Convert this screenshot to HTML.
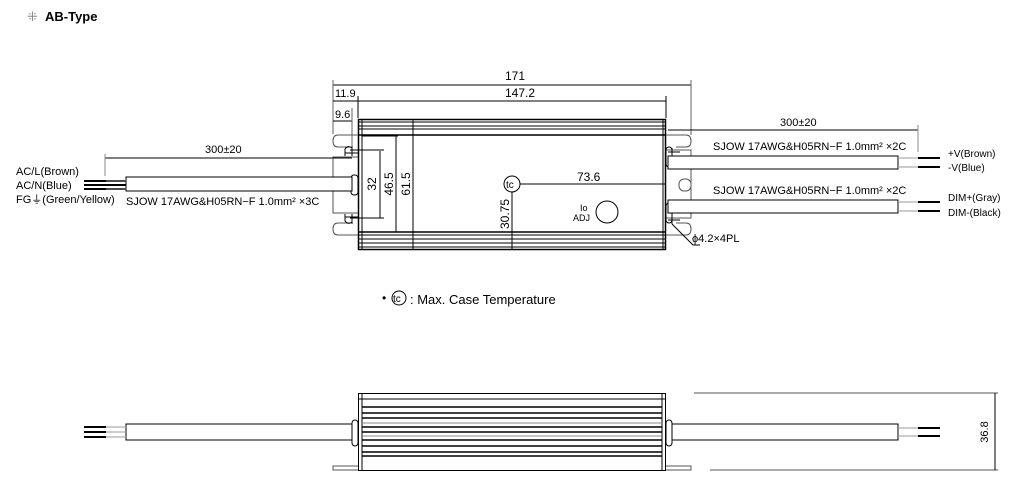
<!DOCTYPE html>
<html><head><meta charset="utf-8"><style>
html,body{margin:0;padding:0;background:#fff;}
svg{display:block;font-family:"Liberation Sans",sans-serif;}
</style></head><body>
<svg width="1011" height="486" viewBox="0 0 1011 486" xmlns="http://www.w3.org/2000/svg">
<g fill="#000" font-size="11">
<text x="27" y="21" font-size="13" fill="#888">⁜</text>
<text x="45" y="21" font-size="13" font-weight="bold">AB-Type</text>
</g>
<g stroke="#000" fill="none" stroke-width="1">
<!-- top dims -->
<line x1="333" y1="85" x2="691" y2="85"/>
<line x1="333" y1="80" x2="333" y2="134" stroke="#666"/>
<line x1="691" y1="80" x2="691" y2="135" stroke="#666"/>
<line x1="333" y1="101" x2="666" y2="101"/>
<line x1="358" y1="96" x2="358" y2="118"/>
<line x1="666" y1="96" x2="666" y2="118"/>
<line x1="333" y1="121" x2="352" y2="121"/>
<line x1="352" y1="108" x2="352" y2="150" stroke="#666"/>
<!-- box -->
<rect x="358.5" y="119.5" width="307" height="130" stroke-width="1.5"/>
<line x1="362" y1="120" x2="362" y2="249"/>
<line x1="663" y1="120" x2="663" y2="249"/>
<line x1="358" y1="122" x2="666" y2="122"/>
<line x1="358" y1="126" x2="666" y2="126"/>
<line x1="358" y1="129" x2="666" y2="129"/>
<line x1="358" y1="135" x2="666" y2="135" stroke-width="1.5"/>
<line x1="358" y1="232" x2="666" y2="232" stroke-width="1.5"/>
<line x1="358" y1="235" x2="666" y2="235"/>
<line x1="358" y1="239" x2="666" y2="239"/>
<line x1="358" y1="243" x2="666" y2="243"/>
<line x1="358" y1="247" x2="666" y2="247"/>
<!-- internal dims -->
<line x1="413" y1="120" x2="413" y2="249"/>
<line x1="396" y1="136" x2="396" y2="232"/>
<line x1="380" y1="151" x2="380" y2="218"/>
<line x1="350" y1="150" x2="384" y2="150"/>
<line x1="350" y1="218" x2="384" y2="218"/>
<line x1="362" y1="136" x2="398" y2="136"/>
<circle cx="512" cy="184" r="8"/>
<line x1="520" y1="184" x2="666" y2="184"/>
<line x1="512" y1="192" x2="512" y2="249"/>
<circle cx="607" cy="212" r="11"/>
<!-- left tabs -->
<g stroke="#555">
<path d="M358 135 H338 Q333 135 333 141 Q333 147 338 147 H350"/>
<path d="M358 157 H333 V213 H358"/>
<path d="M358 235 H338 Q333 235 333 229 Q333 223 338 223 H350"/>
</g>
<path d="M352 146 V156 M345 156 V149 Q348 145 352 148 M345 153 H358"/>
<path d="M352 214 V224 M345 214 V221 Q348 225 352 222 M345 217 H358"/>
<rect x="351" y="175" width="7" height="20" rx="3"/>
<!-- left cable -->
<line x1="105" y1="158" x2="352" y2="158"/>
<line x1="105" y1="154" x2="105" y2="176" stroke="#888"/>
<rect x="126" y="177" width="226" height="14" fill="#fff"/>
<line x1="84" y1="181" x2="126" y2="181" stroke-width="2"/>
<line x1="84" y1="185" x2="126" y2="185" stroke-width="2"/>
<line x1="84" y1="189" x2="126" y2="189" stroke-width="2"/>
<line x1="106" y1="181" x2="126" y2="181" stroke="#999" stroke-width="1"/>
<line x1="106" y1="189" x2="126" y2="189" stroke="#999" stroke-width="1"/>
<!-- right tabs -->
<g stroke="#555">
<path d="M666 135 H686 Q691 135 691 141 Q691 147 686 147 H676"/>
<path d="M666 150 H691 V218 H666"/>
<path d="M666 235 H686 Q691 235 691 229 Q691 223 686 223 H676"/>
<rect x="679" y="179" width="12" height="12" rx="5"/>
</g>
<rect x="666" y="147" width="6" height="20" rx="3"/>
<rect x="666" y="203" width="6" height="20" rx="3"/>
<path d="M672 148 V156 M668 152 H680 M672 216 V224 M668 220 H680"/>
<path d="M672 224 L693 245 H700"/>
<!-- right cables -->
<line x1="668" y1="130" x2="918" y2="130"/>
<line x1="918" y1="125" x2="918" y2="152" stroke="#888"/>
<rect x="668" y="156" width="230" height="13" fill="#fff"/>
<rect x="668" y="200" width="230" height="13" fill="#fff"/>
<line x1="898" y1="158" x2="918" y2="158" stroke="#999"/>
<line x1="898" y1="167" x2="918" y2="167" stroke="#999"/>
<line x1="918" y1="158" x2="940" y2="158" stroke-width="2"/>
<line x1="918" y1="167" x2="940" y2="167" stroke-width="2"/>
<line x1="898" y1="202" x2="918" y2="202" stroke="#999"/>
<line x1="898" y1="211" x2="918" y2="211" stroke="#999"/>
<line x1="918" y1="202" x2="940" y2="202" stroke-width="2"/>
<line x1="918" y1="211" x2="940" y2="211" stroke-width="2"/>
<!-- legend -->
<circle cx="399" cy="298" r="7"/>
<!-- bottom view -->
<rect x="358.5" y="393.5" width="307" height="77"/>
<line x1="362" y1="393" x2="362" y2="470"/>
<line x1="662" y1="393" x2="662" y2="470"/>
<line x1="358" y1="399" x2="666" y2="399"/>
<g stroke-width="1.5">
<line x1="362" y1="407" x2="662" y2="407"/>
<line x1="362" y1="413" x2="662" y2="413"/>
<line x1="362" y1="418" x2="662" y2="418"/>
<line x1="362" y1="427" x2="662" y2="427"/>
<line x1="362" y1="432" x2="662" y2="432"/>
<line x1="362" y1="440" x2="662" y2="440"/>
<line x1="362" y1="446" x2="662" y2="446"/>
<line x1="362" y1="452" x2="662" y2="452"/>
<line x1="362" y1="456" x2="662" y2="456"/>
</g>
<line x1="362" y1="423" x2="662" y2="423" stroke="#888"/>
<line x1="362" y1="436" x2="662" y2="436" stroke="#888"/>
<path d="M358 466 H333 V470 H358 M666 466 H691 V470 H666" stroke="#555"/>
<rect x="352" y="420" width="6" height="26" rx="3"/>
<rect x="666" y="420" width="6" height="26" rx="3"/>
<rect x="126" y="424" width="226" height="16" fill="#fff"/>
<rect x="672" y="424" width="226" height="16" fill="#fff"/>
<line x1="84" y1="427" x2="106" y2="427" stroke-width="2"/>
<line x1="84" y1="432" x2="106" y2="432" stroke-width="2"/>
<line x1="84" y1="437" x2="106" y2="437" stroke-width="2"/>
<line x1="106" y1="427" x2="126" y2="427" stroke="#999"/>
<line x1="106" y1="432" x2="126" y2="432" stroke="#999"/>
<line x1="106" y1="437" x2="126" y2="437" stroke="#999"/>
<line x1="898" y1="428" x2="918" y2="428" stroke="#999"/>
<line x1="898" y1="436" x2="918" y2="436" stroke="#999"/>
<line x1="918" y1="428" x2="940" y2="428" stroke-width="2"/>
<line x1="918" y1="436" x2="940" y2="436" stroke-width="2"/>
<line x1="694" y1="393" x2="998" y2="393" stroke="#555"/>
<line x1="710" y1="470" x2="998" y2="470" stroke="#555"/>
<line x1="995" y1="393" x2="995" y2="470"/>
</g>
<g fill="#000" font-size="11">
<text x="505" y="80" font-size="12">171</text>
<text x="505" y="97" font-size="12">147.2</text>
<text x="335" y="97" font-size="11">11.9</text>
<text x="335" y="118" font-size="11">9.6</text>
<text x="205" y="153" font-size="11">300±20</text>
<text x="780" y="126" font-size="11">300±20</text>
<text x="16" y="175">AC/L(Brown)</text>
<text x="16" y="189">AC/N(Blue)</text>
<text x="16" y="203">FG⏚(Green/Yellow)</text>
<text x="126" y="205" font-size="11">SJOW 17AWG&amp;H05RN−F  1.0mm² ×3C</text>
<text x="713" y="150" font-size="11">SJOW 17AWG&amp;H05RN−F  1.0mm² ×2C</text>
<text x="713" y="194" font-size="11">SJOW 17AWG&amp;H05RN−F  1.0mm² ×2C</text>
<text x="948" y="157" font-size="10">+V(Brown)</text>
<text x="948" y="171" font-size="10">-V(Blue)</text>
<text x="948" y="201" font-size="10">DIM+(Gray)</text>
<text x="948" y="216" font-size="10">DIM-(Black)</text>
<text x="577" y="181" font-size="12">73.6</text>
<text x="506" y="188" font-size="10">tc</text>
<text x="580" y="211" font-size="9">Io</text>
<text x="573" y="221" font-size="9">ADJ</text>
<text x="692" y="242" font-size="11">ϕ4.2×4PL</text>
<text transform="translate(376,184) rotate(-90)" text-anchor="middle" font-size="12">32</text>
<text transform="translate(393,184) rotate(-90)" text-anchor="middle" font-size="12">46.5</text>
<text transform="translate(410,184) rotate(-90)" text-anchor="middle" font-size="12">61.5</text>
<text transform="translate(509,214) rotate(-90)" text-anchor="middle" font-size="12">30.75</text>
<text x="382" y="302" font-size="12">•</text>
<text x="393" y="302" font-size="10">tc</text>
<text x="410" y="304" font-size="13">: Max. Case Temperature</text>
<text transform="translate(988,432) rotate(-90)" text-anchor="middle" font-size="11">36.8</text>
</g>
</svg>
</body></html>
